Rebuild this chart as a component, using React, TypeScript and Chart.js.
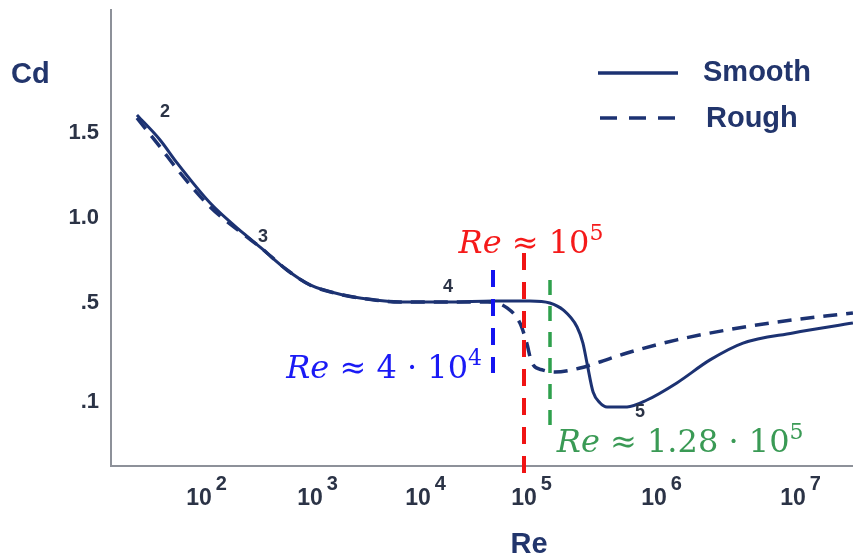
import React, { useEffect, useRef } from 'react';
import { Chart, registerables, LinearScale } from 'chart.js';

// ---------------- data ----------------
const SMOOTH_RE = [27.6, 44.6, 63.4, 126, 249, 355, 621, 1000, 2020, 2900, 6810, 20000, 51000, 111000, 158000, 200000, 256000, 284000, 305000, 340000, 385000, 435000, 620000, 883000, 1.46e6, 2.53e6, 4.37e6, 1e7, 2.7e7];
const SMOOTH_CD = [1.606, 1.459, 1.324, 1.088, 0.912, 0.829, 0.694, 0.606, 0.547, 0.529, 0.506, 0.506, 0.512, 0.512, 0.5, 0.472, 0.403, 0.338, 0.258, 0.14, 0.096, 0.08, 0.08, 0.108, 0.177, 0.27, 0.338, 0.379, 0.419];

const ROUGH_RE = [27.6, 44.6, 63.4, 126, 249, 355, 621, 1000, 2020, 2900, 6810, 20000, 45700, 69200, 91600, 105000, 115000, 140000, 173000, 270000, 365000, 620000, 1.46e6, 3.35e6, 7.67e6, 2.7e7];
const ROUGH_CD = [1.588, 1.418, 1.288, 1.065, 0.906, 0.829, 0.694, 0.606, 0.547, 0.529, 0.506, 0.506, 0.506, 0.48, 0.419, 0.338, 0.258, 0.229, 0.221, 0.237, 0.258, 0.298, 0.351, 0.391, 0.423, 0.46];

const SERIES_NAMES = ['Smooth', 'Rough'];

const X_DECADES = [2, 3, 4, 5, 6, 7];
const Y_TICKS = [0.1, 0.5, 1.0, 1.5];
const Y_TICK_LABELS = ['.1', '.5', '1.0', '1.5'];

const CURVE_LABEL_TEXT = ['2', '3', '4', '5'];
const CURVE_LABEL_RE = [49.4, 378, 19200, 780000];
const CURVE_LABEL_CD = [1.624, 0.888, 0.594, 0.06];

const MARKER_RE = [51000, 100000, 158000];
const MARKER_CD_TOP = [0.694, 0.794, 0.635];
const MARKER_CD_BOTTOM = [0.217, -0.207, -0.001];
const MARKER_BASE = ['4 · 10', '10', '1.28 · 10'];
const MARKER_EXP = ['4', '5', '5'];

// hand-drawn (non-uniform) axis spacing of the original figure
const X_AXIS_LOG = [2, 3, 4, 5, 6, 7];
const X_AXIS_FRAC = [0.1186, 0.2682, 0.4137, 0.5566, 0.7318, 0.9191];
const Y_AXIS_CD = [0.1, 0.5, 1.0, 1.5];
const Y_AXIS_FRAC = [0.1404, 0.3575, 0.5439, 0.7303];

// ---------------- styles ----------------
const CURVE_COLOR = '#1c3272';
const TICK_COLOR = '#2b3346';
const TITLE_COLOR = '#22356c';
const AXIS_COLOR = '#8d9199';
const MARKER_COLORS = ['#1414f0', '#f01414', '#2ea04c'];
const MARKER_TEXT_COLORS = ['#1a1af5', '#f51a1a', '#3a9a55'];
const SANS = '"Liberation Sans", Arial, sans-serif';
const SERIF = '"DejaVu Serif", serif';

function interp(v: number, xs: number[], ys: number[]) {
  const n = xs.length;
  let i = 0;
  if (v >= xs[n - 1]) i = n - 2;
  else if (v > xs[0]) {
    while (i < n - 2 && v > xs[i + 1]) i++;
  }
  const t = (v - xs[i]) / (xs[i + 1] - xs[i]);
  return ys[i] + t * (ys[i + 1] - ys[i]);
}

class WarpScale extends LinearScale {
  static id = 'warp';
  static defaults = LinearScale.defaults;
  getPixelForValue(value: number) {
    if (this.axis === 'x') {
      return this.getPixelForDecimal(interp(Math.log10(value), X_AXIS_LOG, X_AXIS_FRAC));
    }
    return this.getPixelForDecimal(interp(value, Y_AXIS_CD, Y_AXIS_FRAC));
  }
  getValueForPixel(pixel: number) {
    const d = this.getDecimalForPixel(pixel);
    if (this.axis === 'x') return Math.pow(10, interp(d, X_AXIS_FRAC, X_AXIS_LOG));
    return interp(d, Y_AXIS_FRAC, Y_AXIS_CD);
  }
}

Chart.register(...registerables, WarpScale as any);

type Part = { t: string; it?: boolean; sup?: boolean };

function drawMath(ctx: CanvasRenderingContext2D, parts: Part[], x: number, y: number, align: string, size: number, color: string) {
  const fontOf = (p: Part) => (p.sup ? `${Math.round(size * 0.7)}px ${SERIF}` : `${p.it ? 'italic ' : ''}${size}px ${SERIF}`);
  let total = 0;
  const widths = parts.map((p) => {
    ctx.font = fontOf(p);
    const w = ctx.measureText(p.t).width;
    total += w;
    return w;
  });
  let cx = align === 'left' ? x : align === 'right' ? x - total : x - total / 2;
  ctx.fillStyle = color;
  ctx.textAlign = 'left';
  ctx.textBaseline = 'alphabetic';
  parts.forEach((p, i) => {
    ctx.font = fontOf(p);
    ctx.fillText(p.t, cx, p.sup ? y - size * 0.42 : y);
    cx += widths[i];
  });
}

const overlay = {
  id: 'overlay',
  afterDraw(chart: any) {
    const ctx: CanvasRenderingContext2D = chart.ctx;
    const xs = chart.scales.x;
    const ys = chart.scales.y;
    ctx.save();

    // x tick labels 10^n
    X_DECADES.forEach((e) => {
      const px = xs.getPixelForValue(Math.pow(10, e));
      ctx.fillStyle = TICK_COLOR;
      ctx.textBaseline = 'alphabetic';
      ctx.font = `bold 23px ${SANS}`;
      ctx.textAlign = 'center';
      ctx.fillText('10', px, 505);
      const w = ctx.measureText('10').width;
      ctx.font = `bold 20px ${SANS}`;
      ctx.textAlign = 'left';
      ctx.fillText(String(e), px + w / 2 + 4, 490);
    });

    // axis titles
    ctx.fillStyle = TITLE_COLOR;
    ctx.font = `bold 29px ${SANS}`;
    ctx.textAlign = 'left';
    ctx.fillText('Cd', 11, 83);
    ctx.textAlign = 'center';
    ctx.fillText('Re', 529, 553);

    // curve labels
    ctx.fillStyle = TICK_COLOR;
    ctx.font = `bold 18px ${SANS}`;
    ctx.textAlign = 'center';
    ctx.textBaseline = 'middle';
    CURVE_LABEL_TEXT.forEach((t, i) => {
      ctx.fillText(t, xs.getPixelForValue(CURVE_LABEL_RE[i]), ys.getPixelForValue(CURVE_LABEL_CD[i]));
    });

    // marker lines
    MARKER_RE.forEach((re, i) => {
      const px = Math.round(xs.getPixelForValue(re));
      const top = ys.getPixelForValue(MARKER_CD_TOP[i]);
      const bot = ys.getPixelForValue(MARKER_CD_BOTTOM[i]);
      ctx.strokeStyle = MARKER_COLORS[i];
      ctx.lineWidth = i === 2 ? 3.5 : 4;
      ctx.setLineDash(i === 2 ? [15, 11] : [17, 12]);
      ctx.beginPath();
      ctx.moveTo(px, top);
      ctx.lineTo(px, bot);
      ctx.stroke();
    });
    ctx.setLineDash([]);

    // marker labels
    MARKER_RE.forEach((re, i) => {
      const px = xs.getPixelForValue(re);
      const top = ys.getPixelForValue(MARKER_CD_TOP[i]);
      const bot = ys.getPixelForValue(MARKER_CD_BOTTOM[i]);
      const parts: Part[] = [{ t: 'Re', it: true }, { t: ' ≈ ' }, { t: MARKER_BASE[i] }, { t: MARKER_EXP[i], sup: true }];
      if (i === 0) drawMath(ctx, parts, px - 11, bot + 5, 'right', 32, MARKER_TEXT_COLORS[i]);
      else if (i === 1) drawMath(ctx, parts, px + 7, top, 'center', 32, MARKER_TEXT_COLORS[i]);
      else drawMath(ctx, parts, px + 7, bot + 25, 'left', 32, MARKER_TEXT_COLORS[i]);
    });

    // legend
    ctx.strokeStyle = CURVE_COLOR;
    ctx.lineWidth = 3.5;
    ctx.beginPath();
    ctx.moveTo(598, 73);
    ctx.lineTo(678, 73);
    ctx.stroke();
    ctx.setLineDash([17, 12]);
    ctx.beginPath();
    ctx.moveTo(600, 118);
    ctx.lineTo(676, 118);
    ctx.stroke();
    ctx.setLineDash([]);
    ctx.fillStyle = TITLE_COLOR;
    ctx.font = `bold 29px ${SANS}`;
    ctx.textAlign = 'left';
    ctx.textBaseline = 'middle';
    ctx.fillText(SERIES_NAMES[0], 703, 73);
    ctx.fillText(SERIES_NAMES[1], 706, 119);

    ctx.restore();
  },
};

export default function App() {
  const ref = useRef<HTMLCanvasElement | null>(null);
  useEffect(() => {
    if (!ref.current) return;
    const chart = new Chart(ref.current, {
      type: 'line',
      data: {
        datasets: [
          {
            label: SERIES_NAMES[1],
            data: ROUGH_RE.map((x, i) => ({ x, y: ROUGH_CD[i] })),
            borderColor: CURVE_COLOR,
            borderWidth: 3.5,
            borderDash: [14, 9],
            pointRadius: 0,
            cubicInterpolationMode: 'monotone',
            fill: false,
          },
          {
            label: SERIES_NAMES[0],
            data: SMOOTH_RE.map((x, i) => ({ x, y: SMOOTH_CD[i] })),
            borderColor: CURVE_COLOR,
            borderWidth: 3,
            pointRadius: 0,
            cubicInterpolationMode: 'monotone',
            fill: false,
          },
        ],
      },
      options: {
        responsive: false,
        animation: false,
        devicePixelRatio: 1,
        layout: { padding: { top: 10, right: 0, left: 0, bottom: 0 } },
        plugins: { legend: { display: false }, tooltip: { enabled: false } },
        scales: {
          x: {
            type: 'warp' as any,
            min: 20,
            max: 3e7,
            grid: { display: false, drawTicks: false },
            border: { display: true, color: AXIS_COLOR, width: 2 },
            ticks: { display: false },
            afterBuildTicks: (s: any) => {
              s.ticks = X_DECADES.map((e) => ({ value: Math.pow(10, e) }));
            },
            afterFit: (s: any) => {
              s.height = 89;
              s.paddingLeft = 0;
              s.paddingRight = 0;
            },
          },
          y: {
            type: 'warp' as any,
            min: -0.3,
            max: 1.8,
            grid: { display: false, drawTicks: false },
            border: { display: true, color: AXIS_COLOR, width: 2 },
            ticks: {
              padding: 12,
              color: TICK_COLOR,
              font: { family: SANS, size: 22, weight: 'bold' },
              autoSkip: false,
              callback: (_v: any, i: number) => Y_TICK_LABELS[i],
            },
            afterBuildTicks: (s: any) => {
              s.ticks = Y_TICKS.map((v) => ({ value: v }));
            },
            afterFit: (s: any) => {
              s.width = 111;
              s.paddingTop = 0;
              s.paddingBottom = 0;
            },
          },
        },
      } as any,
      plugins: [overlay],
    });
    return () => chart.destroy();
  }, []);
  return (
    <div style={{ position: 'fixed', left: 0, top: 0, width: 853, height: 555, background: '#ffffff' }}>
      <canvas ref={ref} width={853} height={555} style={{ display: 'block', width: 853, height: 555 }} />
    </div>
  );
}
